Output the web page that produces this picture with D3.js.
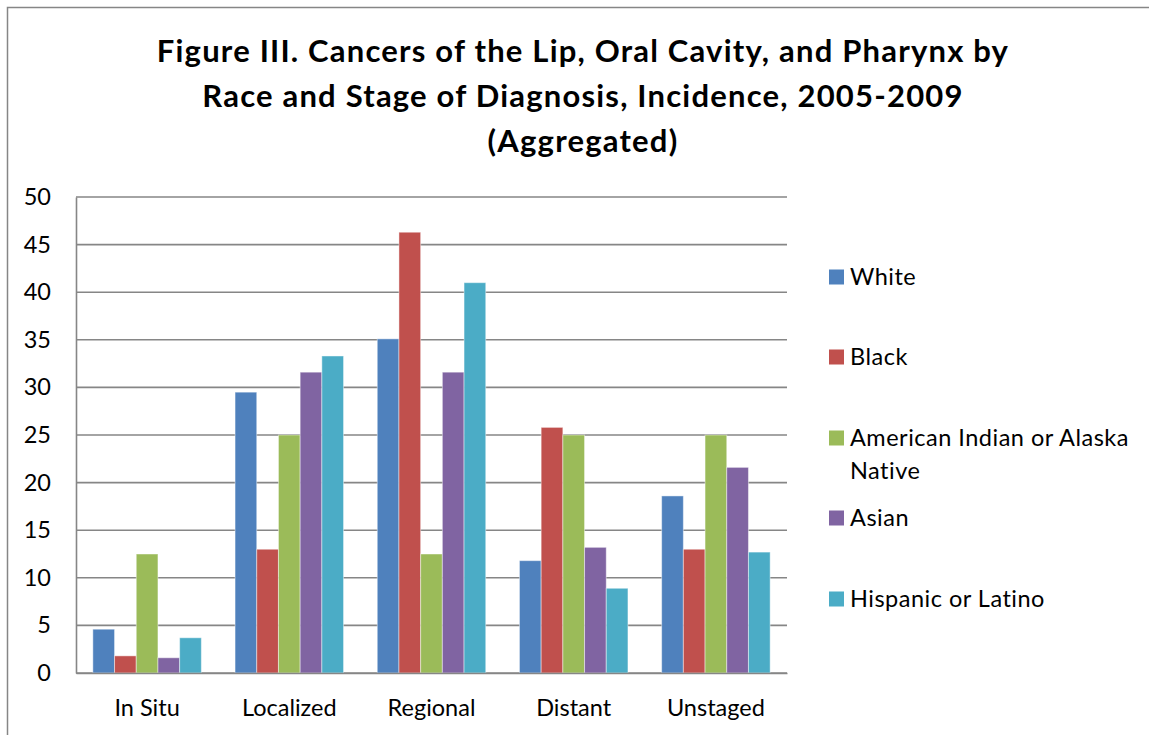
<!DOCTYPE html>
<html>
<head>
<meta charset="utf-8">
<script src="https://cdn.jsdelivr.net/npm/d3@7"></script>
<style>
  body { margin: 0; background: #fff; }
  svg { display: block; font-family: Lato, "Open Sans", sans-serif; }
</style>
</head>
<body>
<script>
const stages = ['In Situ', 'Localized', 'Regional', 'Distant', 'Unstaged'];
const races = ['White', 'Black', 'American Indian or Alaska Native', 'Asian', 'Hispanic or Latino'];

/** one array per race, in stage order */
const white = [4.6, 29.5, 35.1, 11.8, 18.6];
const black = [1.8, 13.0, 46.3, 25.8, 13.0];
const aian = [12.5, 25.0, 12.5, 25.0, 25.0];
const asian = [1.6, 31.6, 31.6, 13.2, 21.6];
const hispanic = [3.7, 33.3, 41.0, 8.9, 12.7];

const yTicks = [0, 5, 10, 15, 20, 25, 30, 35, 40, 45, 50];
const titleLines = [
  'Figure III. Cancers of the Lip, Oral Cavity, and Pharynx by',
  'Race and Stage of Diagnosis, Incidence, 2005-2009',
  '(Aggregated)'
];

const seriesValues = [white, black, aian, asian, hispanic];
const colors = ['#4F81BD', '#C0504D', '#9BBB59', '#8064A2', '#4BACC6'];

const width = 1149, height = 735;
const margin = {left: 76, right: 362, top: 197, bottom: 62};

const svg = d3.select('body').append('svg')
  .attr('width', width)
  .attr('height', height);

// chart frame
svg.append('rect')
  .attr('x', 7.5).attr('y', 7.5)
  .attr('width', width + 20).attr('height', height + 20)
  .attr('fill', 'none')
  .attr('stroke', '#868686')
  .attr('stroke-width', 1.5);

// title
svg.append('g')
  .selectAll('text')
  .data(titleLines)
  .enter().append('text')
  .attr('x', 583)
  .attr('y', (d, i) => 62 + i * 45)
  .attr('text-anchor', 'middle')
  .attr('font-size', 31)
  .attr('font-weight', 'bold')
  .attr('letter-spacing', 1.2)
  .attr('fill', '#000')
  .text(d => d);

const x0 = d3.scaleBand()
  .domain(stages)
  .range([margin.left, width - margin.right])
  .paddingInner(0.237)
  .paddingOuter(0.1185);

const x1 = d3.scaleBand()
  .domain(d3.range(races.length))
  .range([0, x0.bandwidth()]);

const y = d3.scaleLinear()
  .domain([0, 50])
  .range([height - margin.bottom, margin.top]);

// gridlines
svg.append('g')
  .attr('class', 'grid')
  .selectAll('line')
  .data(yTicks)
  .enter().append('line')
  .attr('x1', margin.left)
  .attr('x2', width - margin.right)
  .attr('y1', d => y(d))
  .attr('y2', d => y(d))
  .attr('stroke', '#868686')
  .attr('stroke-width', 1.6);

// bars
const groups = svg.append('g')
  .attr('class', 'bars')
  .selectAll('g')
  .data(stages)
  .enter().append('g')
  .attr('transform', d => `translate(${x0(d)},0)`);

groups.selectAll('rect')
  .data((d, i) => seriesValues.map((vals, s) => ({s, v: vals[i]})))
  .enter().append('rect')
  .attr('x', d => x1(d.s))
  .attr('width', x1.bandwidth())
  .attr('y', d => y(d.v))
  .attr('height', d => y(0) - y(d.v))
  .attr('fill', d => colors[d.s])
  .attr('stroke', 'rgba(255,255,255,0.45)')
  .attr('stroke-width', 1);

// y axis
const yAxis = svg.append('g')
  .attr('transform', `translate(${margin.left},0)`)
  .call(d3.axisLeft(y).tickValues(yTicks).tickSize(0).tickPadding(25));
yAxis.select('.domain')
  .attr('stroke', '#868686')
  .attr('stroke-width', 1.6);
yAxis.selectAll('text')
  .attr('font-size', 23.5)
  .attr('font-family', 'Lato, sans-serif')
  .attr('fill', '#000');

// x axis
const xAxis = svg.append('g')
  .attr('transform', `translate(0,${height - margin.bottom})`)
  .call(d3.axisBottom(x0).tickSize(0).tickPadding(26));
xAxis.select('.domain')
  .attr('stroke', '#868686')
  .attr('stroke-width', 1.6);
xAxis.selectAll('text')
  .attr('font-size', 23.5)
  .attr('font-family', 'Lato, sans-serif')
  .attr('fill', '#000');

// legend
const legendY = [277, 357, 438, 518, 599];
const legend = svg.append('g')
  .attr('class', 'legend')
  .selectAll('g')
  .data(races)
  .enter().append('g')
  .attr('transform', (d, i) => `translate(829,${legendY[i]})`);

legend.append('rect')
  .attr('x', 0)
  .attr('y', -7.5)
  .attr('width', 15)
  .attr('height', 15)
  .attr('fill', (d, i) => colors[i]);

legend.append('text')
  .attr('x', 21)
  .attr('y', 0)
  .attr('dy', '0.35em')
  .attr('font-size', 23.5)
  .attr('letter-spacing', 0.5)
  .attr('fill', '#000')
  .each(function (d) {
    const t = d3.select(this);
    if (d === 'American Indian or Alaska Native') {
      t.append('tspan').attr('x', 21).text('American Indian or Alaska');
      t.append('tspan').attr('x', 21).attr('dy', 33).text('Native');
    } else {
      t.text(d);
    }
  });
</script>
</body>
</html>
